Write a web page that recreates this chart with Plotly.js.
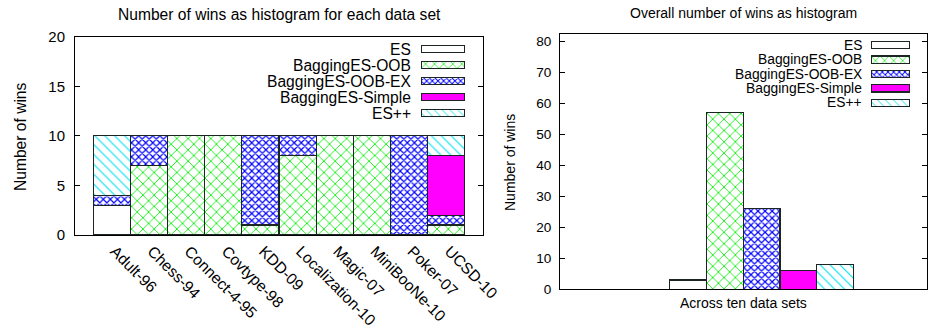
<!DOCTYPE html>
<html>
<head>
<meta charset="utf-8">
<script src="https://cdn.plot.ly/plotly-3.0.1.min.js"></script>
<style>html,body{margin:0;padding:0;background:#fff;}#chart{width:935px;height:328px;}</style>
</head>
<body>
<div id="chart"></div>
<script>
// ---- data ----
const datasets = ['Adult-96','Chess-94','Connect-4-95','Covtype-98','KDD-09','Localization-10','Magic-07','MiniBooNe-10','Poker-07','UCSD-10'];
const series = ['ES','BaggingES-OOB','BaggingES-OOB-EX','BaggingES-Simple','ES++'];
const winsES     = [3,0,0,0,0,0,0,0,0,0];
const winsOOB    = [0,7,10,10,1,8,10,10,0,1];
const winsOOBEX  = [1,3,0,0,9,2,0,0,10,1];
const winsSimple = [0,0,0,0,0,0,0,0,0,6];
const winsESpp   = [6,0,0,0,0,0,0,0,0,2];
const overallWins = [3,57,26,6,8];
const leftTitle = 'Number of wins as histogram for each data set';
const rightTitle = 'Overall number of wins as histogram';
const yTitle = 'Number of wins';
const rightXLabel = 'Across ten data sets';

// ---- styles ----
const FONT = 'Liberation Sans, Arial, Helvetica, sans-serif';
const EDGE = '#1c2424';
const styles = [
  {color:'#ffffff', shape:'',   fg:'#ffffff', size:8, sol:0.3},
  {color:'#ffffff', shape:'x',  fg:'#00ee00', size:8, sol:0.2},
  {color:'#ffffff', shape:'x',  fg:'#0000ff', size:5, sol:0.42},
  {color:'#ff00ff', shape:'',   fg:'#ff00ff', size:8, sol:0.3},
  {color:'#ffffff', shape:'\\', fg:'#00e0f0', size:7, sol:0.16}
];
function markerFor(st, scale){
  const m = {color: st.color, line:{color:EDGE, width:1.2}};
  if (st.shape) m.pattern = {shape:st.shape, fgcolor:st.fg, bgcolor:'#ffffff',
    size:st.size*(scale||1), solidity:st.sol, fillmode:'replace'};
  return m;
}

const stacks = [winsES, winsOOB, winsOOBEX, winsSimple, winsESpp];
const traces = [];
stacks.forEach((vals,i)=>{
  traces.push({type:'bar', x:datasets, y:vals, name:series[i], xaxis:'x', yaxis:'y',
    marker: markerFor(styles[i]), showlegend:false});
});

// right chart: one bar per series
series.forEach((s,i)=>{
  traces.push({type:'bar', x:[s], y:[overallWins[i]], name:s, xaxis:'x2', yaxis:'y2',
    marker: markerFor(styles[i]), showlegend:false});
});

// legend swatches (left and right)
series.forEach((s,i)=>{
  traces.push({type:'bar', orientation:'h', y:[s], x:[1], xaxis:'x3', yaxis:'y3',
    width:0.44, marker: markerFor(styles[i], 0.8), showlegend:false, hoverinfo:'skip'});
  traces.push({type:'bar', orientation:'h', y:[s], x:[1], xaxis:'x4', yaxis:'y4',
    width:0.5, marker: markerFor(styles[i], 0.8), showlegend:false, hoverinfo:'skip'});
});

const W = 935, H = 328;
const px = v => v / W;
const py = v => 1 - v / H;

const axisBase = {showline:true, linecolor:'#000', linewidth:1, mirror:true, zeroline:false, showgrid:false, fixedrange:true};

const annotations = [];
function ann(text, x, y, size, opts){
  annotations.push(Object.assign({text, x:px(x), y:py(y), xref:'paper', yref:'paper', showarrow:false,
    font:{family:FONT, size, color:'#000'}, xanchor:'center', yanchor:'middle'}, opts||{}));
}
ann(leftTitle, 279, 14, 15.6);
ann(rightTitle, 743, 13, 14);
ann(yTitle, 20, 137, 15.6, {textangle:-90});
ann(yTitle, 510, 162, 14, {textangle:-90});
ann(rightXLabel, 743, 303, 14);
const leftRows = [49.3, 65.7, 81.3, 97.3, 113.3];
const rightRows = [45, 59.6, 74, 88.4, 102.8];
series.forEach((s,i)=>{
  ann(s, 413, leftRows[i], 15.6, {xanchor:'right'});
  ann(s, 864, rightRows[i], 13.8, {xanchor:'right'});
});

const layout = {
  width: W, height: H,
  margin:{l:0, r:0, t:0, b:0, pad:0},
  paper_bgcolor:'#fff', plot_bgcolor:'#fff',
  barmode:'stack', bargap:0,
  showlegend:false,
  font:{family:FONT, color:'#000'},
  xaxis: Object.assign({}, axisBase, {domain:[px(75), px(483)], anchor:'y', type:'category',
    range:[-0.99, 9.99], ticks:'', tickangle:45, ticklabelshift:3,
    tickfont:{family:FONT, size:15.6, color:'#000'}}),
  yaxis: Object.assign({}, axisBase, {domain:[py(235), py(36.7)], anchor:'x', range:[0,20],
    tickvals:[0,5,10,15,20], ticks:'inside', ticklen:5, tickcolor:'#000', mirror:'ticks',
    ticklabelstandoff:6, tickfont:{family:FONT, size:15, color:'#000'}}),
  xaxis2: Object.assign({}, axisBase, {domain:[px(560), px(927.3)], anchor:'y2', type:'category',
    range:[-3.49, 6.51], ticks:'', showticklabels:false}),
  yaxis2: Object.assign({}, axisBase, {domain:[py(289.3), py(34.3)], anchor:'x2', range:[0,82.2],
    tickvals:[0,10,20,30,40,50,60,70,80], ticks:'inside', ticklen:5, tickcolor:'#000', mirror:'ticks',
    ticklabelstandoff:5, tickfont:{family:FONT, size:13.6, color:'#000'}}),
  xaxis3: {domain:[px(421), px(465)], anchor:'y3', range:[-0.02,1.02], visible:false, fixedrange:true},
  yaxis3: {domain:[py(121.3), py(41.3)], anchor:'x3', type:'category', range:[4.5,-0.5], visible:false, fixedrange:true},
  xaxis4: {domain:[px(871), px(910)], anchor:'y4', range:[-0.02,1.02], visible:false, fixedrange:true},
  yaxis4: {domain:[py(110), py(38)], anchor:'x4', type:'category', range:[4.5,-0.5], visible:false, fixedrange:true},
  annotations
};

Plotly.newPlot('chart', traces, layout, {staticPlot:true, displayModeBar:false});
</script>
</body>
</html>
